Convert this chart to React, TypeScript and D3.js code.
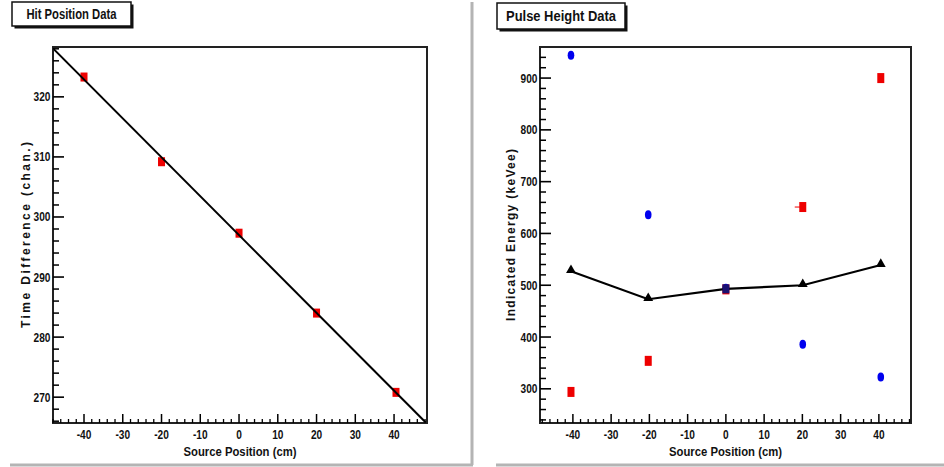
import React from "react";
import * as d3 from "d3";

// Hit position: source position (cm) vs. time difference (channels)
const hitPositions = [-40, -20, 0, 20, 40.5];
const hitTimeDiff = [323.3, 309.2, 297.3, 284.0, 270.8];

// Pulse height: source position (cm) vs. indicated energy (keVee)
const pulsePositions = [-40.5, -20.3, 0, 20.1, 40.5];
const energyBlue = [944, 636, 494, 386, 323];
const energyRed = [294, 354, 492, 651, 900];
const energyMean = [527, 473, 493, 500, 539];

const xTicks = [-40, -30, -20, -10, 0, 10, 20, 30, 40];
const hitYTicks = [270, 280, 290, 300, 310, 320];
const energyYTicks = [300, 400, 500, 600, 700, 800, 900];

const W = 944;
const H = 467;
const SANS = "'Liberation Sans', Arial, sans-serif";
const RED = "#ee0000";
const BLUE = "#0000ee";
const SQUEEZE = 0.78;

type Frame = { left: number; right: number; top: number; bottom: number };

// Condensed bold label: glyphs squeezed horizontally around the anchor point
function NText({
  x,
  y,
  anchor,
  size,
  children,
}: {
  x: number;
  y: number;
  anchor: "start" | "middle" | "end";
  size: number;
  children: React.ReactNode;
}) {
  return (
    <text
      transform={`translate(${x},${y}) scale(${SQUEEZE},1)`}
      textAnchor={anchor}
      fontFamily={SANS}
      fontWeight="bold"
      fontSize={size}
      fill="#111"
    >
      {children}
    </text>
  );
}

function Axes({
  frame,
  x,
  y,
  yTicks,
  yMinorStep,
  xTitle,
  yTitle,
  yTitleX,
  yTitleLen,
}: {
  frame: Frame;
  x: d3.ScaleLinear<number, number>;
  y: d3.ScaleLinear<number, number>;
  yTicks: number[];
  yMinorStep: number;
  xTitle: string;
  yTitle: string;
  yTitleX: number;
  yTitleLen: number;
}) {
  const [x0, x1] = x.domain();
  const [y0, y1] = y.domain();
  const xMinor = d3.range(Math.ceil(x0 / 2) * 2, x1, 2).filter((v) => !xTicks.includes(v));
  const yMinor = d3
    .range(Math.ceil(y0 / yMinorStep) * yMinorStep, y1, yMinorStep)
    .filter((v) => !yTicks.includes(v));
  const midY = (frame.top + frame.bottom) / 2;
  return (
    <g>
      <rect
        x={frame.left}
        y={frame.top}
        width={frame.right - frame.left}
        height={frame.bottom - frame.top}
        fill="none"
        stroke="#222"
        strokeWidth={2}
      />
      {/* x axis ticks */}
      {xTicks.map((t) => (
        <line key={"xm" + t} x1={x(t)} x2={x(t)} y1={frame.bottom} y2={frame.bottom - 9} stroke="#000" strokeWidth={1.5} />
      ))}
      {xMinor.map((t) => (
        <line key={"xn" + t} x1={x(t)} x2={x(t)} y1={frame.bottom} y2={frame.bottom - 4} stroke="#000" strokeWidth={1.3} />
      ))}
      {xTicks.map((t) => (
        <NText key={"xl" + t} x={x(t)} y={frame.bottom + 16} anchor="middle" size={13}>
          {t}
        </NText>
      ))}
      {/* y axis ticks */}
      {yTicks.map((t) => (
        <line key={"ym" + t} x1={frame.left} x2={frame.left + 11} y1={y(t)} y2={y(t)} stroke="#000" strokeWidth={1.6} />
      ))}
      {yMinor.map((t) => (
        <line key={"yn" + t} x1={frame.left} x2={frame.left + 6} y1={y(t)} y2={y(t)} stroke="#000" strokeWidth={1.5} />
      ))}
      {yTicks.map((t) => (
        <NText key={"yl" + t} x={frame.left - 2.5} y={y(t) + 4.5} anchor="end" size={13}>
          {t}
        </NText>
      ))}
      <text
        x={(frame.left + frame.right) / 2}
        y={frame.bottom + 33}
        textAnchor="middle"
        fontFamily={SANS}
        fontWeight="bold"
        fontSize={13}
        textLength={113}
        lengthAdjust="spacingAndGlyphs"
        fill="#111"
      >
        {xTitle}
      </text>
      <text
        transform={`translate(${yTitleX},${midY}) rotate(-90)`}
        textAnchor="middle"
        fontFamily={SANS}
        fontWeight="bold"
        fontSize={12}
        textLength={yTitleLen}
        lengthAdjust="spacing"
        fill="#111"
      >
        {yTitle}
      </text>
    </g>
  );
}

function TitleBox({ x, y, w, h, label, textLen }: { x: number; y: number; w: number; h: number; label: string; textLen: number }) {
  return (
    <g>
      <rect x={x + 2.5} y={y + 2.5} width={w} height={h} fill="#111" />
      <rect x={x} y={y} width={w} height={h} fill="#fff" stroke="#111" strokeWidth={1.5} />
      <text
        x={x + w / 2}
        y={y + h / 2 + 5}
        textAnchor="middle"
        fontFamily={SANS}
        fontWeight="bold"
        fontSize={14}
        textLength={textLen}
        lengthAdjust="spacingAndGlyphs"
        fill="#111"
      >
        {label}
      </text>
    </g>
  );
}

function HitPanel() {
  const frame: Frame = { left: 53, right: 427, top: 47, bottom: 423 };
  const x = d3.scaleLinear().domain([-48, 48.5]).range([frame.left, frame.right]);
  const y = d3.scaleLinear().domain([265.7, 328.3]).range([frame.bottom, frame.top]);

  // least-squares straight line through the points
  const mx = d3.mean(hitPositions)!;
  const my = d3.mean(hitTimeDiff)!;
  const sxy = d3.sum(hitPositions, (v, i) => (v - mx) * (hitTimeDiff[i] - my));
  const sxx = d3.sum(hitPositions, (v) => (v - mx) ** 2);
  const slope = sxy / sxx;
  const icpt = my - slope * mx;
  const fitX = x.domain();
  const fit = d3
    .line<number>()
    .x((v) => x(v))
    .y((v) => y(icpt + slope * v));

  return (
    <g>
      <defs>
        <clipPath id="hitClip">
          <rect x={frame.left} y={frame.top} width={frame.right - frame.left} height={frame.bottom - frame.top} />
        </clipPath>
      </defs>
      <g clipPath="url(#hitClip)">
        {hitPositions.map((p, i) => (
          <rect key={i} x={x(p) - 3.5} y={y(hitTimeDiff[i]) - 4.5} width={7} height={9} fill={RED} />
        ))}
        <path d={fit(fitX) ?? ""} fill="none" stroke="#000" strokeWidth={2} />
      </g>
      <Axes
        frame={frame}
        x={x}
        y={y}
        yTicks={hitYTicks}
        yMinorStep={2}
        xTitle="Source Position (cm)"
        yTitle="Time Difference (chan.)"
        yTitleX={30}
        yTitleLen={186}
      />
      <TitleBox x={12} y={2} w={119} h={24} label="Hit Position Data" textLen={90} />
    </g>
  );
}

function PulsePanel() {
  const frame: Frame = { left: 540, right: 911, top: 47, bottom: 423 };
  const x = d3.scaleLinear().domain([-48.6, 48.4]).range([frame.left, frame.right]);
  const y = d3.scaleLinear().domain([234, 960]).range([frame.bottom, frame.top]);
  const meanLine = d3
    .line<number>()
    .x((_, i) => x(pulsePositions[i]))
    .y((v) => y(v));
  const tri = d3.symbol().type(d3.symbolTriangle).size(42);

  return (
    <g>
      {energyRed.map((v, i) => (
        <rect key={"r" + i} x={x(pulsePositions[i]) - 3.5} y={y(v) - 5} width={7} height={10} fill={RED} />
      ))}
      {/* horizontal error bar on the +20 cm point */}
      <line
        x1={x(pulsePositions[3]) - 8}
        x2={x(pulsePositions[3])}
        y1={y(energyRed[3])}
        y2={y(energyRed[3])}
        stroke={RED}
        strokeWidth={1}
      />
      {energyBlue.map((v, i) => (
        <ellipse key={"b" + i} cx={x(pulsePositions[i])} cy={y(v)} rx={3.3} ry={4.5} fill={BLUE} />
      ))}
      <path d={meanLine(energyMean) ?? ""} fill="none" stroke="#000" strokeWidth={2.2} />
      {energyMean.map((v, i) =>
        i === 2 ? (
          <rect key={"m" + i} x={x(pulsePositions[i]) - 3.5} y={y(v) - 4.5} width={7} height={9} fill="#1a1070" />
        ) : (
          <path key={"m" + i} d={tri() ?? ""} transform={`translate(${x(pulsePositions[i])},${y(v) - 1})`} fill="#000" />
        )
      )}
      <Axes
        frame={frame}
        x={x}
        y={y}
        yTicks={energyYTicks}
        yMinorStep={20}
        xTitle="Source Position (cm)"
        yTitle="Indicated Energy (keVee)"
        yTitleX={515}
        yTitleLen={172}
      />
      <TitleBox x={497} y={3} w={128} h={26} label="Pulse Height Data" textLen={110} />
    </g>
  );
}

export default function App() {
  return (
    <svg
      width={W}
      height={H}
      viewBox={`0 0 ${W} ${H}`}
      style={{ position: "absolute", left: 0, top: 0, background: "#fff" }}
    >
      <rect width={W} height={H} fill="#fff" />
      {/* panel separators */}
      <line x1={472} x2={472} y1={2} y2={465} stroke="#b4b4b4" strokeWidth={3} />
      <line x1={10} x2={473} y1={465} y2={465} stroke="#b4b4b4" strokeWidth={3} />
      <line x1={496} x2={944} y1={465} y2={465} stroke="#b4b4b4" strokeWidth={3} />
      <HitPanel />
      <PulsePanel />
    </svg>
  );
}
